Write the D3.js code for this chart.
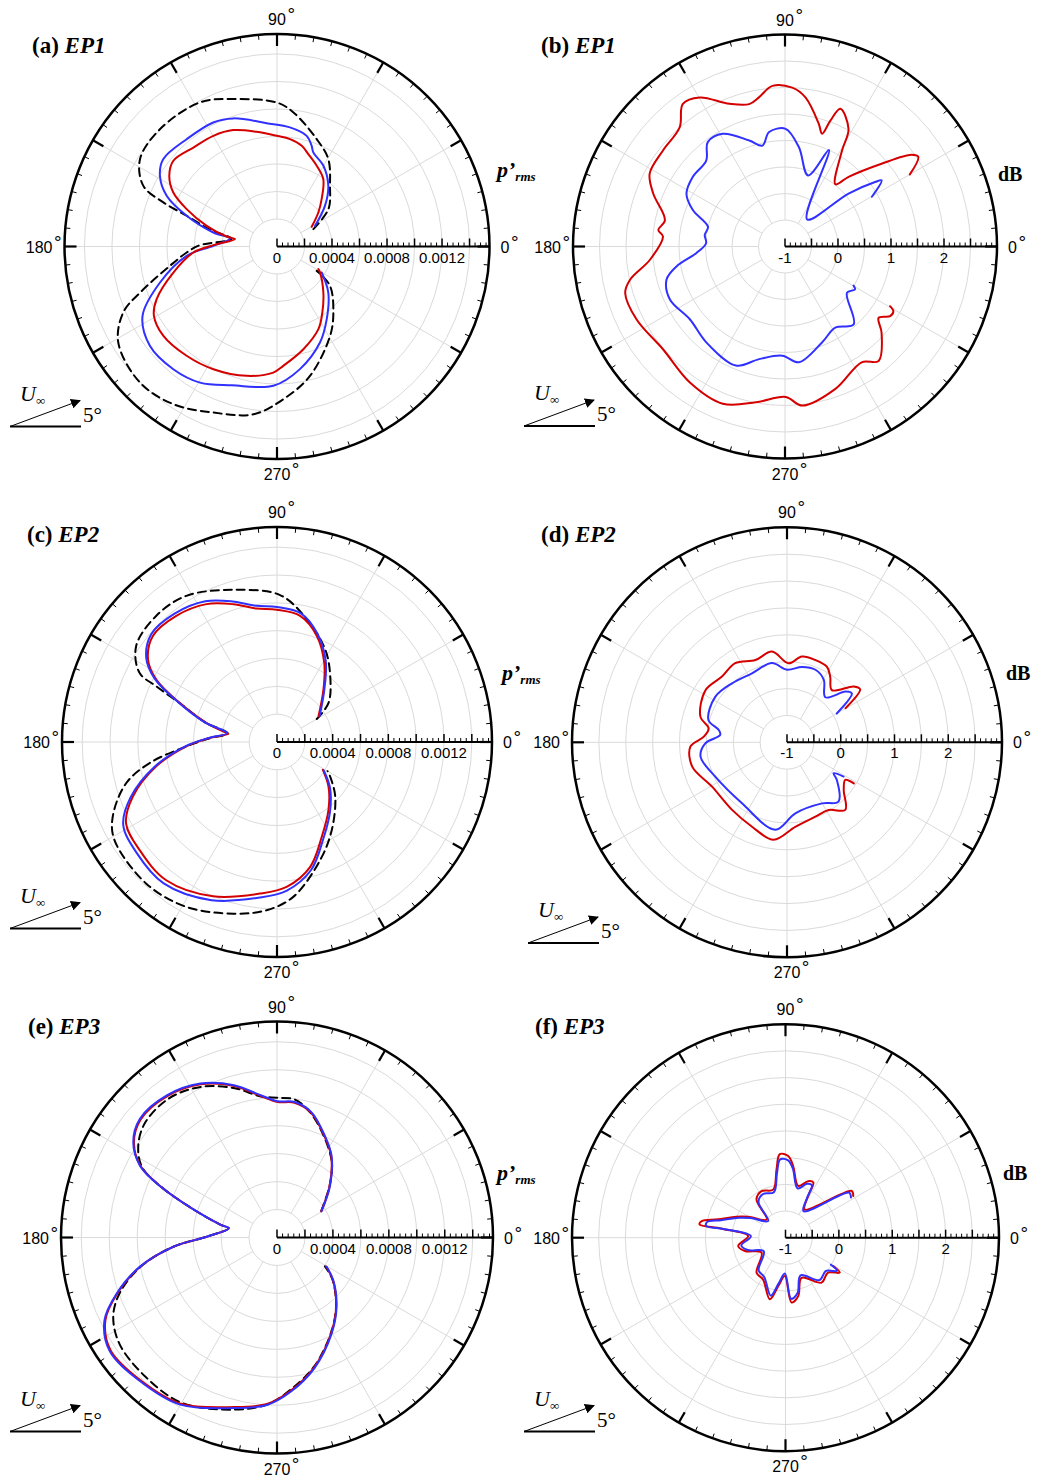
<!DOCTYPE html>
<meta charset="utf-8">
<style>
body { margin: 0; background: #fff; }
.ring, .spoke { fill: none; stroke: #dadada; stroke-width: 1px; }
.rim { fill: none; stroke: #000; stroke-width: 2.5px; }
.curve { fill: none; stroke-width: 2px; stroke-linejoin: round; stroke-linecap: round; }
.sans { font-family: "Liberation Sans", Arial, Helvetica, sans-serif; }
.serif { font-family: "Liberation Serif", "Times New Roman", serif; }
</style>
<svg width="1037" height="1479"></svg>
<script src="https://d3js.org/d3.v7.min.js"></script>
<script>
// [angle in degrees, value]; p'rms values are in units of 1e-4, the others in dB

// (a) EP1, p'rms
var ep1PrmsRed = [[29.6,2.9],[39.4,3.89],[46.7,4.73],[55.5,5.94],[63.8,6.54],[71.3,7.09],[76.2,7.54],[83.1,7.86],[90.2,8.05],[100,8.47],[110.6,9.04],[119.9,9.28],[130.2,9.42],[140.4,9.78],[146.7,9.37],[152.5,8.5],[157.5,7.11],[163.6,5.33],[168.8,3.73],[170,3.1],[178.8,4.63],[184.1,6.1],[194.1,7.77],[203.6,9.55],[209.4,10.27],[218.2,10.51],[230.4,10.31],[242.6,10.05],[256.8,9.66],[268.3,9.17],[273,8.69],[284.4,7.71],[296.6,6.72],[304.5,5.82],[315.2,4.75],[328.8,3.66],[331.3,3.43]];
var ep1PrmsBlue = [[28.5,3.15],[40.3,4.57],[49.8,5.78],[60.1,6.77],[68.9,7.33],[71,7.74],[75,8.33],[83.8,8.71],[94.8,9.0],[108.8,9.84],[117.2,10.14],[130.1,10.2],[142.5,10.43],[148.9,9.94],[155.3,8.83],[161.2,6.94],[167.6,4.74],[170.3,3.47],[179.4,4.63],[185.9,6.6],[197.1,8.9],[207.3,11.0],[218,11.73],[229.8,11.68],[240.5,11.37],[252,10.61],[268.5,10.13],[280.6,9.07],[294.1,7.65],[304.4,6.4],[318.1,5.01],[329.8,3.76]];
var ep1PrmsDash = [[25.5,2.93],[36,4.62],[48.9,5.86],[59.6,7.37],[69.7,8.32],[83,9.82],[90.1,10.47],[106.5,11.18],[118.1,11.88],[135.1,12.05],[147.5,11.81],[155.6,10.67],[158.8,8.86],[161.2,6.94],[166,5.0],[170.5,3.35],[179,5.6],[183.8,6.58],[190.2,7.9],[198.6,10.5],[203.2,12.16],[211.2,13.49],[224.8,14.04],[236.7,13.72],[249,12.93],[262,12.32],[272.4,11.11],[284.3,9.71],[300.7,7.56],[310.5,6.31],[323.4,4.8],[328.5,3.39]];

// (b) EP1, dB
var ep1DbRed = [[30,1.72],[33.9,2.03],[35.9,1.95],[40.6,1.4],[47.6,0.78],[51,0.51],[59.3,1.11],[61.6,1.52],[68.1,1.8],[70.2,1.52],[71.8,1.24],[74.6,1.4],[82.2,1.84],[87.4,2.0],[94.5,2.04],[99.8,1.86],[104.1,1.77],[111.3,1.89],[119.8,2.24],[125.6,2.31],[131.5,2.0],[141.8,1.93],[151.7,1.9],[158.1,1.68],[167.6,1.32],[172.6,1.41],[175.3,1.31],[185.6,1.56],[192.1,1.99],[196.2,2.14],[206.2,2.12],[220.1,2.01],[234.9,2.13],[248.4,2.19],[259.4,1.99],[270.3,1.84],[276.2,2.02],[289.5,1.85],[303.5,1.62],[309.3,1.79],[318.3,1.44],[322.7,1.22],[326.5,1.38],[329.2,1.38],[330.4,1.28]];
var ep1DbBlue = [[29.8,0.89],[34.4,1.21],[35.6,1.09],[39.8,0.56],[50.7,-0.34],[65.5,1.0],[72,0.41],[82,0.89],[89.7,1.22],[97.9,1.18],[102.6,0.95],[108.6,1.11],[118.9,1.43],[126.5,1.45],[132.5,1.2],[142.9,1.18],[151.8,1.11],[158.4,0.87],[165.6,0.5],[171.8,0.53],[177.6,0.49],[184.3,0.68],[190.4,1.08],[195.6,1.32],[204.7,1.39],[217.4,1.26],[230.6,1.34],[247.6,1.43],[257.1,1.18],[268.6,1.06],[276.8,1.2],[291.1,0.94],[301.8,0.8],[311.4,0.96],[323.2,0.46],[328.5,0.55],[330.3,0.49]];

// (c) EP2, p'rms
var ep2PrmsRed = [[31.8,3.51],[48.5,5.04],[59.2,6.63],[69.4,8.14],[79.6,9.21],[90.1,9.5],[98.7,9.7],[107.6,10.39],[117.1,11.13],[128.6,11.6],[139.5,11.73],[147.4,11.0],[152.6,9.77],[158.1,7.54],[164.9,5.26],[169.9,3.69],[170.5,3.55],[176.6,4.84],[182.7,6.52],[191.4,8.85],[200.7,11.07],[208.3,12.32],[218.2,12.56],[231.3,12.73],[247.5,12.0],[263.6,10.96],[273.8,10.43],[284.9,9.28],[295.3,7.53],[307.2,6.12],[319.2,4.89],[328.8,3.85]];
var ep2PrmsBlue = [[31.5,3.6],[48.5,5.15],[59,6.8],[69.5,8.3],[79.5,9.4],[90,9.7],[98.7,9.9],[107.6,10.6],[117,11.35],[128.6,11.8],[139.5,11.9],[147.4,11.15],[152.6,9.9],[158.1,7.65],[164.9,5.35],[169.8,3.65],[176.6,4.9],[182.7,6.6],[191.4,8.97],[200.7,11.25],[208.3,12.55],[218.2,12.85],[231.3,13.02],[247.5,12.3],[263.6,11.25],[273.8,10.7],[284.9,9.52],[295.3,7.75],[307.2,6.3],[319.2,5.03],[328.8,3.92]];
var ep2PrmsDash = [[30,3.3],[37.2,4.65],[51.1,6.09],[62.5,7.5],[76.4,9.08],[88.8,10.56],[106.1,11.38],[121.8,12.36],[133.8,12.55],[145.7,12.25],[153.3,11.06],[155.2,9.56],[158.1,7.6],[164.9,5.3],[170,3.6],[177,4.9],[183,6.6],[189.4,9.28],[195.3,11.24],[204.4,12.96],[211.1,13.64],[227.3,13.85],[241.2,13.52],[255.7,12.73],[266.5,12.11],[276,11.19],[290.1,9.03],[301.9,7.45],[316.9,5.73],[327,4.55],[330,4.2]];

// (d) EP2, dB
var ep2DbRed = [[30.2,0.26],[35.9,0.68],[39.9,0.62],[49.3,0.28],[56.6,0.46],[62.1,0.59],[71,0.62],[80.1,0.62],[88.8,0.47],[99.4,0.71],[111,0.64],[123.2,0.76],[134.7,0.72],[147.4,0.8],[163.5,0.68],[169.9,0.48],[176.1,0.55],[182.6,0.8],[194.4,0.82],[210.6,0.62],[230.9,0.62],[247.5,0.7],[262.2,0.83],[275.6,0.58],[290.9,0.48],[301.6,0.48],[310.8,0.66],[319.9,0.38],[327.1,0.29],[328.4,0.46]];
var ep2DbBlue = [[30.1,0.07],[37,0.51],[40.9,0.44],[49.6,0.1],[59.5,0.35],[68.6,0.45],[78.8,0.43],[90,0.35],[100.8,0.5],[116.9,0.44],[133,0.5],[147.5,0.58],[164.1,0.52],[169.8,0.29],[173.7,0.25],[180.7,0.52],[189.4,0.63],[205.6,0.48],[233.6,0.41],[262.4,0.64],[276.7,0.33],[299.8,0.31],[311,0.46],[323,0.16],[326.4,0.04],[328.8,0.23]];

// (e) EP3, p'rms
var ep3PrmsRed = [[30.6,3.67],[44.3,5.25],[56.3,6.99],[64.9,8.0],[74.7,9.25],[82.6,9.72],[89.7,9.69],[96.5,10.18],[105.8,11.26],[116.5,12.24],[127.8,12.8],[139.1,12.9],[146.5,12.27],[152.4,11.0],[156.3,9.09],[161.5,6.26],[167.3,4.12],[169.1,3.53],[179.2,4.98],[185,7.4],[192,9.98],[199.3,12.1],[205.7,13.62],[214.1,14.38],[226.3,14.13],[239.9,13.74],[255.8,12.51],[266.8,11.91],[275.3,10.98],[286.1,9.64],[299.4,7.88],[310.5,6.51],[322.7,5.02],[329.4,4.09]];
var ep3PrmsBlue = [[30.6,3.7],[44.3,5.3],[56.3,7.03],[64.9,8.05],[74.7,9.3],[82.6,9.77],[89.7,9.75],[96.5,10.24],[105.8,11.32],[116.5,12.3],[127.8,12.86],[139.1,12.97],[146.5,12.33],[152.4,11.05],[156.3,9.12],[161.5,6.28],[167.3,4.12],[169.1,3.5],[179.2,4.98],[185,7.42],[192,10.02],[199.3,12.16],[205.7,13.7],[214.1,14.46],[226.3,14.2],[239.9,13.82],[255.8,12.58],[266.8,11.98],[275.3,11.05],[286.1,9.7],[299.4,7.93],[310.5,6.56],[322.7,5.06],[329.4,4.12]];
var ep3PrmsDash = [[31,3.7],[44.3,5.25],[52,6.4],[56.3,6.95],[64.9,7.95],[74.7,9.2],[82.6,9.95],[89.7,10.0],[96.5,10.15],[105.8,11.1],[116.5,12.05],[127.8,12.6],[139.1,12.5],[146.5,11.9],[152.4,10.9],[156.3,9.09],[161.5,6.26],[167.3,4.12],[169.1,3.53],[179.2,4.98],[185,7.4],[192,9.95],[199.3,11.9],[205.7,13.0],[214.1,13.6],[226.3,13.7],[239.9,13.65],[255.8,12.7],[266.8,11.95],[275.3,10.9],[286.1,9.6],[299.4,7.85],[310.5,6.5],[322.7,5.0],[329,4.0]];

// (f) EP3, dB
var ep3DbRed = [[31.6,0.49],[35.3,0.52],[55.7,-0.36],[61.5,-0.11],[63.3,0.16],[68.2,0.14],[76.2,0.0],[83.9,0.35],[88.1,0.53],[93.9,0.57],[97.5,0.29],[104.3,-0.07],[117.2,-0.02],[127.1,-0.1],[136,-0.51],[150.6,-0.2],[156.8,0.0],[164.8,0.31],[168.8,0.6],[171.2,0.63],[172,0.21],[177.4,-0.3],[190,-0.1],[198.2,-0.2],[212,-0.47],[230.4,-0.15],[241.8,-0.11],[255.7,0.19],[261.4,-0.08],[269,-0.28],[275.3,0.22],[282.3,0.12],[291.8,-0.19],[308.7,0.08],[320.6,0.03],[327.2,0.21],[329.3,0.04]];
var ep3DbBlue = [[31.6,0.44],[35.3,0.46],[55.7,-0.4],[61.5,-0.16],[63.3,0.1],[68.2,0.09],[76.2,-0.05],[83.9,0.3],[88.1,0.45],[93.9,0.47],[97.5,0.22],[104.3,-0.12],[117.2,-0.08],[127.1,-0.16],[136,-0.55],[150.6,-0.25],[156.8,-0.05],[164.8,0.25],[168.8,0.5],[171.6,0.5],[172,0.15],[177.4,-0.35],[190,-0.16],[198.2,-0.26],[212,-0.52],[230.4,-0.21],[241.8,-0.16],[255.7,0.12],[261.4,-0.13],[269,-0.33],[275.3,0.15],[282.3,0.06],[291.8,-0.24],[308.7,0.02],[320.6,-0.02],[327.2,0.15],[329.3,-0.01]];

// axes
var prmsDomain = [0, 15.45];
var prmsTicks = [0, 4, 8, 12];
var prmsTickLabels = ["0", "0.0004", "0.0008", "0.0012"];
var dbDomain = [-1, 3];
var dbTicks = [-1, 0, 1, 2];
var dbTickLabels = ["-1", "0", "1", "2"];
var angleLabels = ["0", "90", "180", "270"];

var colors = {red: "#d40000", blue: "#3030ff", dash: "#000"};

var panels = [
  {tag: "(a) ", name: "EP1", kind: "p", cx: 277, cy: 246.5, r: 212.5, title: [32, 53], unit: [497, 177], arrow: [10, 426.5],
   series: [[ep1PrmsDash, "dash"], [ep1PrmsBlue, "blue"], [ep1PrmsRed, "red"]]},
  {tag: "(b) ", name: "EP1", kind: "db", cx: 785, cy: 246.5, r: 212, title: [541, 53], unit: [998, 181], arrow: [524, 426],
   series: [[ep1DbRed, "red"], [ep1DbBlue, "blue"]]},
  {tag: "(c) ", name: "EP2", kind: "p", cx: 277, cy: 742, r: 215, title: [27, 542], unit: [502, 680], arrow: [10, 928.5],
   series: [[ep2PrmsDash, "dash"], [ep2PrmsRed, "red"], [ep2PrmsBlue, "blue"]]},
  {tag: "(d) ", name: "EP2", kind: "db", cx: 787, cy: 742.3, r: 215, title: [541, 542], unit: [1006, 680], arrow: [528, 943],
   series: [[ep2DbRed, "red"], [ep2DbBlue, "blue"]]},
  {tag: "(e) ", name: "EP3", kind: "p", cx: 277, cy: 1237.5, r: 216, title: [28, 1034], unit: [497, 1180], arrow: [10, 1431.5],
   series: [[ep3PrmsDash, "dash"], [ep3PrmsRed, "red"], [ep3PrmsBlue, "blue"]]},
  {tag: "(f) ", name: "EP3", kind: "db", cx: 785.5, cy: 1237.7, r: 213.5, title: [535, 1034], unit: [1003, 1180], arrow: [524, 1431.5],
   series: [[ep3DbRed, "red"], [ep3DbBlue, "blue"]]}
];

var svg = d3.select("svg");
svg.append("rect").attr("width", 1037).attr("height", 1479).attr("fill", "#fff");

svg.append("defs").append("marker")
    .attr("id", "head")
    .attr("viewBox", "0 0 10 10")
    .attr("refX", 9).attr("refY", 5)
    .attr("markerWidth", 10).attr("markerHeight", 10)
    .attr("markerUnits", "userSpaceOnUse")
    .attr("orient", "auto")
  .append("path")
    .attr("d", "M0,0L10,5L0,10z")
    .attr("fill", "#000");

var rad = function(deg) { return deg * Math.PI / 180; };

panels.forEach(function(p) {
  var isP = p.kind == "p";
  var domain = isP ? prmsDomain : dbDomain;
  var rs = d3.scaleLinear().domain(domain).range([0, p.r]);
  var step = isP ? 2 : 0.5;
  var minor = step / 5;

  var g = svg.append("g").attr("transform", "translate(" + p.cx + "," + p.cy + ")");

  // grid rings
  var rings = d3.range(domain[0] + step, domain[1] - 1e-6, step);
  g.selectAll(".ring").data(rings).enter().append("circle")
      .attr("class", "ring")
      .attr("r", function(d) { return rs(d); });

  // spokes every 30 degrees
  var r1 = rs(rings[0]);
  g.selectAll(".spoke").data(d3.range(30, 360, 30)).enter().append("line")
      .attr("class", "spoke")
      .attr("x1", function(d) { return r1 * Math.cos(rad(d)); })
      .attr("y1", function(d) { return -r1 * Math.sin(rad(d)); })
      .attr("x2", function(d) { return p.r * Math.cos(rad(d)); })
      .attr("y2", function(d) { return -p.r * Math.sin(rad(d)); });

  // data curves
  var line = d3.lineRadial()
      .angle(function(d) { return rad(90 - d[0]); })
      .radius(function(d) { return rs(d[1]); })
      .curve(d3.curveCatmullRom.alpha(0.5));

  p.series.forEach(function(s) {
    g.append("path")
        .datum(s[0])
        .attr("class", "curve")
        .attr("stroke", colors[s[1]])
        .attr("stroke-dasharray", s[1] == "dash" ? "8,5" : null)
        .attr("d", line);
  });

  // outer rim with ticks
  g.append("circle").attr("class", "rim").attr("r", p.r);
  g.selectAll(".rimtick").data(d3.range(0, 360, 5)).enter().append("line")
      .attr("stroke", "#000")
      .attr("stroke-width", function(d) { return d % 30 == 0 ? 2.2 : 1; })
      .attr("x1", function(d) { return p.r * Math.cos(rad(d)); })
      .attr("y1", function(d) { return -p.r * Math.sin(rad(d)); })
      .attr("x2", function(d) { var l = d % 30 == 0 ? 12 : 5; return (p.r - l) * Math.cos(rad(d)); })
      .attr("y2", function(d) { var l = d % 30 == 0 ? 12 : 5; return -(p.r - l) * Math.sin(rad(d)); });

  // radial axis along 0 degrees
  g.append("line")
      .attr("x1", 0).attr("x2", p.r)
      .attr("stroke", "#000").attr("stroke-width", 2);
  var minors = d3.range(domain[0], domain[1] + 1e-6, minor);
  g.selectAll(".atick").data(minors).enter().append("line")
      .attr("stroke", "#000")
      .attr("stroke-width", function(d, i) { return i % 5 == 0 ? 1.5 : 1; })
      .attr("x1", function(d) { return rs(d); })
      .attr("x2", function(d) { return rs(d); })
      .attr("y1", 0)
      .attr("y2", function(d, i) { return i % 5 == 0 ? -8 : -4; });

  var ticks = isP ? prmsTicks : dbTicks;
  var labels = isP ? prmsTickLabels : dbTickLabels;
  g.selectAll(".alabel").data(ticks).enter().append("text")
      .attr("class", "sans")
      .attr("font-size", 15)
      .attr("text-anchor", "middle")
      .attr("x", function(d) { return rs(d); })
      .attr("y", 16)
      .text(function(d, i) { return labels[i]; });

  // angle labels
  var angPos = [
    [p.r + 11, 6, "start"],
    [0, -p.r - 9, "middle"],
    [-p.r - 12, 6, "end"],
    [0, p.r + 21, "middle"]
  ];
  angleLabels.forEach(function(txt, i) {
    var t = g.append("text")
        .attr("class", "sans")
        .attr("font-size", 16)
        .attr("text-anchor", angPos[i][2])
        .attr("x", angPos[i][0])
        .attr("y", angPos[i][1])
        .text(txt);
    var w = t.node().getComputedTextLength();
    var end = angPos[i][2] == "start" ? angPos[i][0] + w : angPos[i][2] == "middle" ? angPos[i][0] + w / 2 : angPos[i][0];
    g.append("text")
        .attr("class", "sans")
        .attr("font-size", 19)
        .attr("x", end + 1.5)
        .attr("y", angPos[i][1] - 4)
        .text("\u00b0");
  });

  // panel title
  var tt = svg.append("text")
      .attr("class", "serif")
      .attr("font-size", 23)
      .attr("font-weight", "bold")
      .attr("x", p.title[0]).attr("y", p.title[1]);
  tt.append("tspan").text(p.tag);
  tt.append("tspan").attr("font-style", "italic").text(p.name);

  // unit label
  var ut = svg.append("text")
      .attr("class", "serif")
      .attr("font-weight", "bold")
      .attr("x", p.unit[0]).attr("y", p.unit[1]);
  if (isP) {
    ut.attr("font-style", "italic").attr("font-size", 22);
    ut.append("tspan").text("p\u2019");
    ut.append("tspan").attr("font-size", 13).attr("dy", 4).text("rms");
  } else {
    ut.attr("font-size", 20).text("dB");
  }

  // free stream direction sketch
  var a = svg.append("g").attr("transform", "translate(" + p.arrow[0] + "," + p.arrow[1] + ")");
  a.append("line").attr("x1", 0).attr("x2", 71).attr("y1", 0).attr("y2", 0)
      .attr("stroke", "#000").attr("stroke-width", 2);
  a.append("line").attr("x1", 0).attr("y1", 0).attr("x2", 70).attr("y2", -26)
      .attr("stroke", "#000").attr("stroke-width", 1)
      .attr("marker-end", "url(#head)");
  var u = a.append("text").attr("class", "serif").attr("x", 10).attr("y", -26);
  u.append("tspan").attr("font-size", 22).attr("font-style", "italic").text("U");
  u.append("tspan").attr("font-size", 13).attr("dy", 4).text("\u221e");
  a.append("text").attr("class", "serif").attr("font-size", 21)
      .attr("x", 73).attr("y", -5).text("5\u00b0");
});
</script>
